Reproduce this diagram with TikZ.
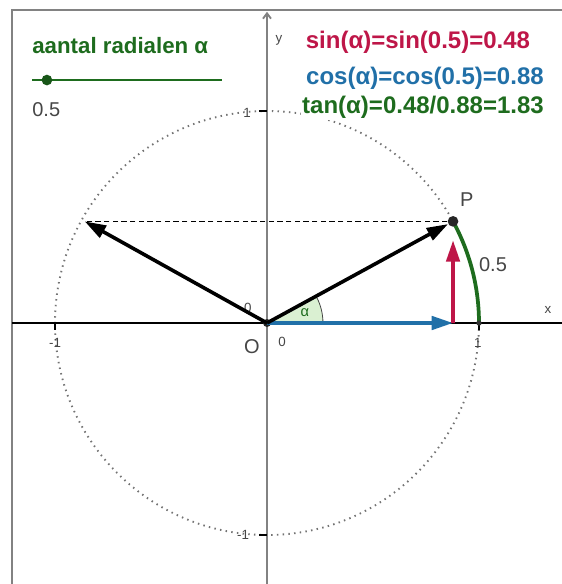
\documentclass[tikz,border=0pt]{standalone}
\usepackage{fontspec}
\setmainfont{Liberation Sans}
\usetikzlibrary{arrows.meta}
\definecolor{sincol}{RGB}{190,22,72}
\definecolor{coscol}{RGB}{33,112,168}
\definecolor{tancol}{RGB}{30,108,30}
\definecolor{framegray}{RGB}{130,130,130}
\definecolor{sectorgreen}{RGB}{218,240,210}
\definecolor{labelgray}{RGB}{70,70,70}
\tikzset{
  vec/.style={line width=2.7pt,-{Triangle[length=16pt,width=10pt]}},
  axislabel/.style={font=\fontsize{10}{12}\selectfont,text=labelgray,inner sep=1pt},
  biglabel/.style={font=\fontsize{15}{18}\selectfont,text=labelgray,inner sep=1pt},
  formula/.style={font=\bfseries\fontsize{18}{21}\selectfont,fill=white,inner sep=1pt},
  dotnode/.style={circle,fill=black!85,inner sep=0pt,minimum size=#1},
}

\begin{document}
\begin{tikzpicture}[x=159pt,y=159pt]
  \useasboundingbox (-1.2594,-1.2311) rectangle (1.3915,1.5236);
  \fill[white] (-1.2594,-1.2311) rectangle (1.3915,1.5236);
  % frame of the graphics view
  \draw[framegray,line width=1.5pt] (-1.203,-1.2311) -- (-1.203,1.476) -- (1.3915,1.476);

  % unit circle and axes
  \draw[gray!90!black,line width=1.4pt,dash pattern=on 1.1pt off 3.2pt] (0,0) circle (1);
  \draw[black,line width=1pt] (-1.203,0) -- (1.3915,0);
  \draw[framegray,line width=1.4pt,-{Straight Barb[length=4pt,width=6pt]}] (0,-1.2311) -- (0,1.468);
  \draw[line width=0.8pt] (1,0) -- (1,-0.033) (-1,0) -- (-1,-0.033)
    (0,1) -- (-0.038,1) (0,-1) -- (-0.038,-1);

  \node[axislabel] (xlab) at (1.325,0.061) {x};
  \node[axislabel] (ylab) at (0.057,1.335) {y};
  \node[axislabel] (xone) at (0.995,-0.094) {1};
  \node[axislabel] (xmone) at (-1.0,-0.094) {-1};
  \node[axislabel] (yone) at (-0.094,0.99) {1};
  \node[axislabel] (ymone) at (-0.113,-1.0) {-1};
  \node[axislabel] (xzero) at (0.071,-0.09) {0};
  \node[axislabel] (yzero) at (-0.09,0.071) {0};

  % points
  \coordinate (E) at (1,0);
  \coordinate (C) at (0.8776,0);
  \coordinate (Q) at (-0.86,0.4794);

  % angle alpha
  \fill[sectorgreen] (0,0) -- (0.264,0) arc (0:28.648:0.264) -- cycle;
  \draw[labelgray,line width=0.6pt] (0.264,0) arc (0:28.648:0.264);
  \node[font=\fontsize{11}{13}\selectfont,text=tancol] (alab) at (0.179,0.047) {α};

  % arc of length 0.5
  \draw[tancol,line width=2.8pt] (E) arc (0:28.648:1);
  \fill[black!80] (E) circle (2pt);

  \node[dotnode=6pt] (O) at (0,0) {};
  \node[dotnode=8pt] (P) at (28.648:1) {};

  \draw[black,line width=0.9pt,dash pattern=on 4pt off 2.5pt] (P) -- (Q);
  \draw[vec,coscol] (O.center) -- (C);
  \draw[vec,sincol,shorten >=10pt] (C) -- (P);
  \draw[vec,black] (O.center) -- (P);
  \draw[vec,black] (O.center) -- (Q);

  \node[biglabel] (Plab) at (0.943,0.58) {P};
  \node[biglabel] (Olab) at (-0.071,-0.113) {O};
  \node[biglabel] (arclab) at (1.066,0.274) {0.5};

  % slider
  \node[font=\bfseries\fontsize{16.7}{19}\selectfont,text=tancol,anchor=west,inner sep=0pt] (title) at (-1.108,1.311) {aantal radialen α};
  \draw[tancol,line width=1.6pt] (-1.108,1.146) -- (-0.212,1.146);
  \node[dotnode=8pt,fill=tancol!80!black] (knob) at (-1.038,1.146) {};
  \node[biglabel,anchor=west,inner sep=0pt] (value) at (-1.108,1.005) {0.5};

  % formulas
  \node[formula,text=sincol] (sin) at (0.712,1.325) {sin(α)=sin(0.5)=0.48};
  \node[formula,text=coscol] (cos) at (0.745,1.152) {cos(α)=cos(0.5)=0.88};
  \node[formula,text=tancol] (tan) at (0.736,1.016) {tan(α)=0.48/0.88=1.83};
\end{tikzpicture}
\end{document}
